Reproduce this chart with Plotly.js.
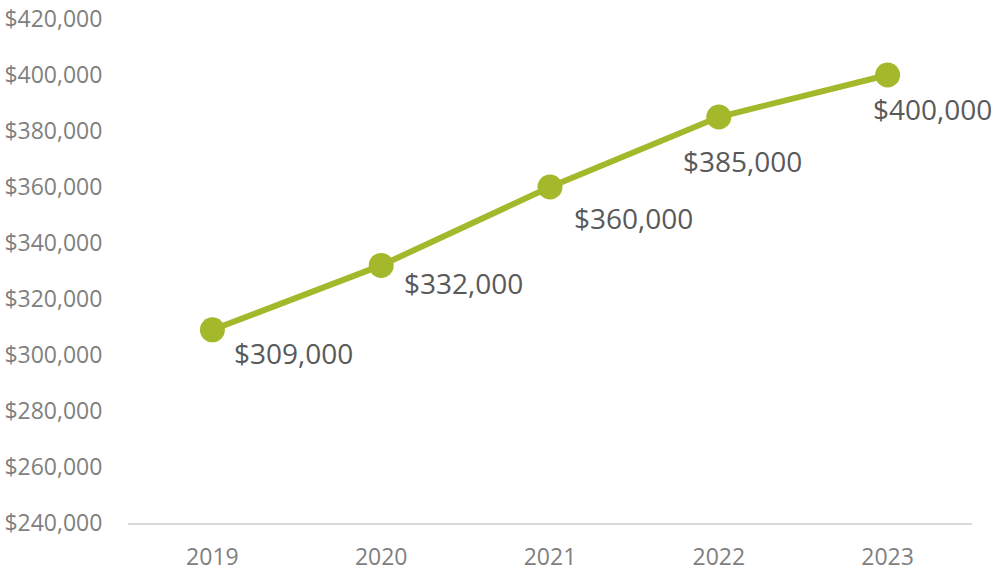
<!DOCTYPE html>
<html>
<head>
<meta charset="utf-8">
<script src="https://cdn.plot.ly/plotly-3.0.1.min.js"></script>
<style>html,body{margin:0;padding:0;background:#fff;}#chart{width:995px;height:571px;}</style>
</head>
<body>
<div id="chart"></div>
<script>
const years = ['2019', '2020', '2021', '2022', '2023'];
const prices = [309000, 332000, 360000, 385000, 400000];
const yTickValues = [240000, 260000, 280000, 300000, 320000, 340000, 360000, 380000, 400000, 420000];

// label placement offsets (pixels), style only
const labelShiftX = [20, 21, 22, -38, -17];
const labelShiftY = [-23, -18, -31, -44, -34];

const fmt = v => '$' + v.toLocaleString('en-US');

const trace = {
  x: years,
  y: prices,
  type: 'scatter',
  mode: 'lines+markers',
  line: {color: '#A4B82B', width: 6},
  marker: {color: '#A4B82B', size: 25},
  hoverinfo: 'skip'
};

const annotations = years.map((yr, i) => ({
  x: i, y: prices[i], xref: 'x', yref: 'y',
  text: fmt(prices[i]), showarrow: false,
  xanchor: 'left', yanchor: 'middle',
  xshift: labelShiftX[i], yshift: labelShiftY[i],
  font: {family: 'Open Sans, sans-serif', size: 28, color: '#595959'}
}));

const layout = {
  width: 995, height: 571,
  margin: {l: 128, r: 23, t: 19, b: 48},
  paper_bgcolor: '#ffffff', plot_bgcolor: '#ffffff',
  showlegend: false,
  font: {family: 'Open Sans, sans-serif', color: '#808080'},
  xaxis: {
    type: 'category', range: [-0.5, 4.5],
    showgrid: false, zeroline: false,
    showline: true, linecolor: '#d9d9d9', linewidth: 2,
    ticks: 'outside', ticklen: 12, tickcolor: 'rgba(0,0,0,0)',
    tickfont: {size: 23, color: '#808080'}
  },
  yaxis: {
    range: [240000, 420000],
    tickvals: yTickValues, ticktext: yTickValues.map(fmt),
    showgrid: false, zeroline: false, showline: false,
    ticks: 'outside', ticklen: 20, tickcolor: 'rgba(0,0,0,0)',
    tickfont: {size: 23, color: '#808080'}
  },
  annotations: annotations
};

Plotly.newPlot('chart', [trace], layout, {displayModeBar: false, staticPlot: true});
</script>
</body>
</html>
